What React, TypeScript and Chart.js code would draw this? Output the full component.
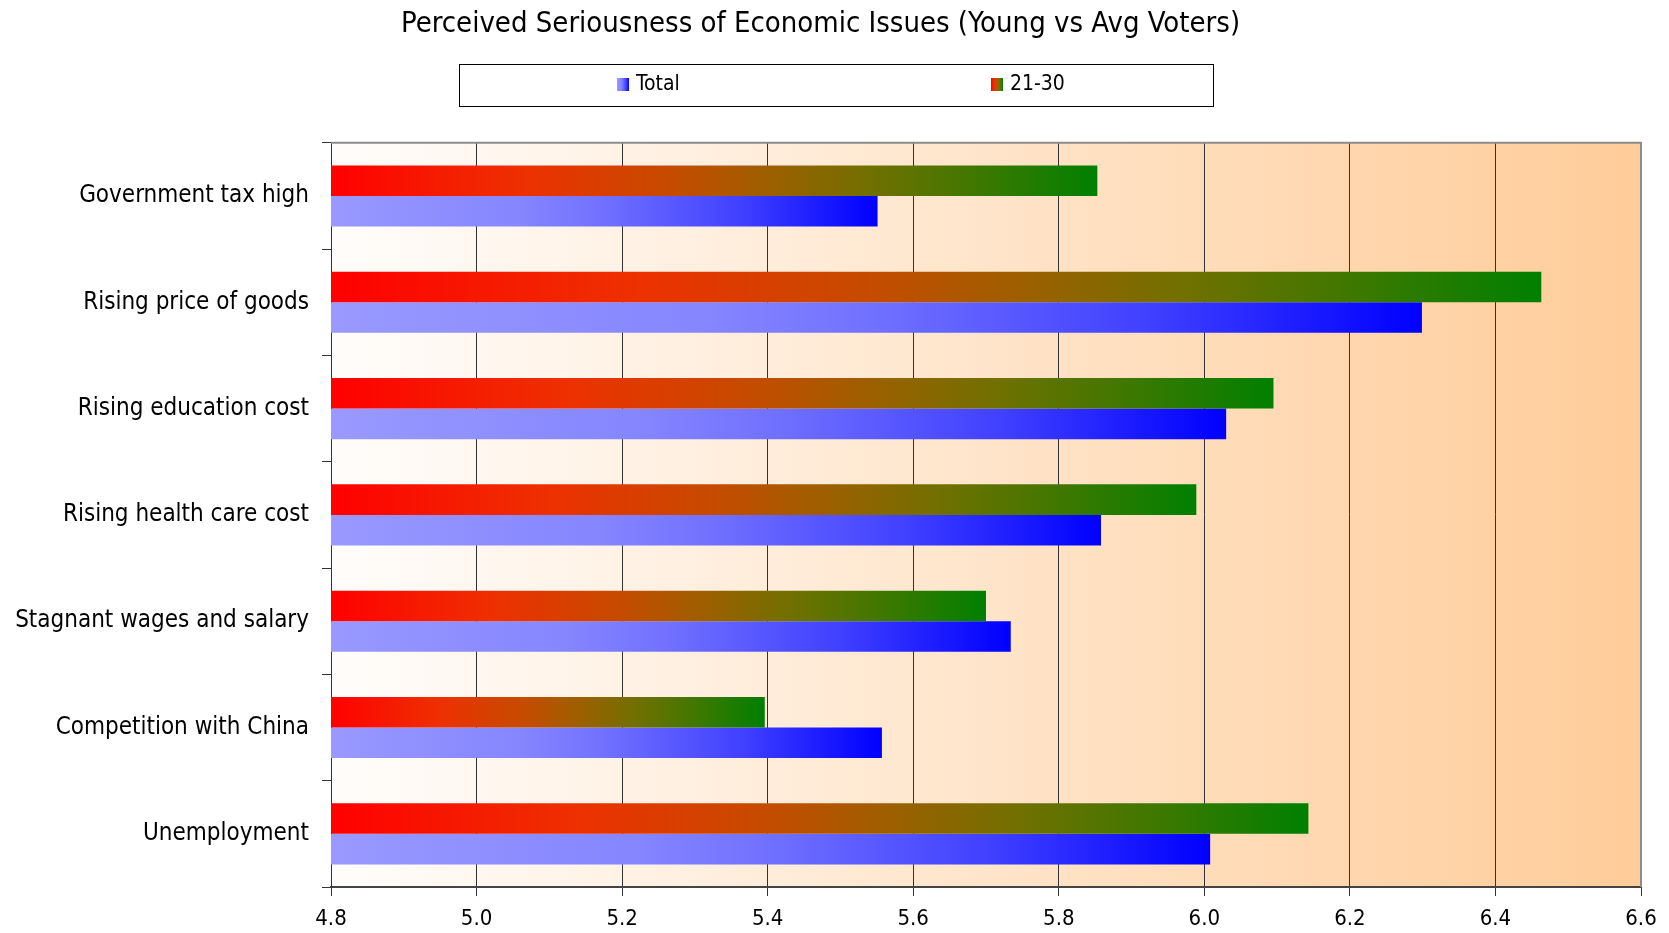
import React, { useEffect, useRef } from "react";
import { Chart, registerables } from "chart.js";

Chart.register(...registerables);

const categories = [
  "Government tax high",
  "Rising price of goods",
  "Rising education cost",
  "Rising health care cost",
  "Stagnant wages and salary",
  "Competition with China",
  "Unemployment",
];
const young = [5.853, 6.463, 6.095, 5.989, 5.7, 5.396, 6.143];
const total = [5.551, 6.299, 6.03, 5.858, 5.734, 5.557, 6.008];
const seriesNames = ["Total", "21-30"];
const xTicks = [4.8, 5.0, 5.2, 5.4, 5.6, 5.8, 6.0, 6.2, 6.4, 6.6];

const FONT = "'DejaVu Sans Condensed', 'Liberation Sans Narrow', sans-serif";
const XMIN = 4.8;
const XMAX = 6.6;

const redStops: [number, string][] = [
  [0, "#ff0000"],
  [0.25, "#ee3000"],
  [0.45, "#c44c00"],
  [0.55, "#a45c00"],
  [0.7, "#727000"],
  [0.85, "#3c7800"],
  [1, "#008000"],
];
const blueStops: [number, string][] = [
  [0, "#9999ff"],
  [0.35, "#8585ff"],
  [0.5, "#7070ff"],
  [0.75, "#4040ff"],
  [1, "#0000ff"],
];

function makeGrad(c: CanvasRenderingContext2D, x0: number, x1: number, stops: [number, string][]) {
  const g = c.createLinearGradient(x0, 0, Math.max(x1, x0 + 1), 0);
  stops.forEach(([o, col]) => g.addColorStop(o, col));
  return g;
}

function barGradient(stops: [number, string][]) {
  return (ctx: any) => {
    const chart = ctx.chart;
    const sx = chart.scales && chart.scales.x;
    if (!chart.chartArea || !sx || typeof ctx.raw !== "number") return stops[stops.length - 1][1];
    const x0 = sx.getPixelForValue(XMIN);
    const x1 = sx.getPixelForValue(ctx.raw);
    return makeGrad(chart.ctx, x0, x1, stops);
  };
}

const bgPlugin = {
  id: "plotBg",
  beforeDraw(chart: any) {
    const { ctx, chartArea } = chart;
    if (!chartArea) return;
    const g = ctx.createLinearGradient(chartArea.left, 0, chartArea.right, 0);
    g.addColorStop(0, "#fffdfb");
    g.addColorStop(1, "#ffcc99");
    ctx.save();
    ctx.fillStyle = g;
    ctx.fillRect(chartArea.left, chartArea.top, chartArea.right - chartArea.left, chartArea.bottom - chartArea.top);
    ctx.restore();
  },
  afterDraw(chart: any) {
    const { ctx, chartArea } = chart;
    ctx.save();
    ctx.strokeStyle = "#8c8c8c";
    ctx.lineWidth = 2;
    ctx.beginPath();
    ctx.moveTo(chartArea.left, chartArea.top);
    ctx.lineTo(chartArea.right, chartArea.top);
    ctx.lineTo(chartArea.right, chartArea.bottom);
    ctx.stroke();

    ctx.lineWidth = 1;
    ctx.strokeStyle = "#000";
    ctx.strokeRect(459.5, 64.5, 754, 42);
    const items = [
      { name: seriesNames[0], x: 617, stops: blueStops },
      { name: seriesNames[1], x: 991, stops: redStops },
    ];
    ctx.font = `21px ${FONT}`;
    ctx.textBaseline = "middle";
    ctx.textAlign = "left";
    items.forEach((it) => {
      ctx.fillStyle = makeGrad(ctx, it.x, it.x + 12, it.stops);
      ctx.fillRect(it.x, 78, 12, 13);
      ctx.fillStyle = "#000";
      ctx.fillText(it.name, it.x + 19, 85);
    });
    ctx.restore();
  },
};

export default function App() {
  const ref = useRef<HTMLCanvasElement | null>(null);

  useEffect(() => {
    document.body.style.margin = "0";
    const canvas = ref.current;
    if (!canvas) return;
    const chart = new Chart(canvas, {
      type: "bar",
      data: {
        labels: categories,
        datasets: [
          {
            label: seriesNames[1],
            data: young,
            backgroundColor: barGradient(redStops),
            borderWidth: 0,
            categoryPercentage: 0.575,
            barPercentage: 1.0,
          },
          {
            label: seriesNames[0],
            data: total,
            backgroundColor: barGradient(blueStops),
            borderWidth: 0,
            categoryPercentage: 0.575,
            barPercentage: 1.0,
          },
        ],
      },
      options: {
        indexAxis: "y",
        responsive: false,
        animation: false,
        layout: { padding: { left: 0, right: 28, top: 0, bottom: 0 } },
        plugins: {
          legend: { display: false },
          tooltip: { enabled: false },
          title: {
            display: true,
            text: "Perceived Seriousness of Economic Issues (Young vs Avg Voters)",
            color: "#000",
            font: { family: FONT, size: 29, weight: "normal" },
            padding: { top: 7, bottom: 101 },
          },
        },
        scales: {
          x: {
            type: "linear",
            min: XMIN,
            max: XMAX,
            afterBuildTicks: (scale: any) => {
              scale.ticks = xTicks.map((v) => ({ value: v }));
            },
            afterFit: (scale: any) => {
              scale.height = 46;
            },
            ticks: {
              color: "#000",
              font: { family: FONT, size: 22 },
              padding: 10,
              callback: (v: any) => Number(v).toFixed(1),
            },
            grid: {
              color: "#333",
              lineWidth: 1,
              tickLength: 9,
              drawOnChartArea: true,
            },
            border: { display: true, color: "#444", width: 2 },
          },
          y: {
            type: "category",
            afterFit: (scale: any) => {
              scale.width = 331;
            },
            ticks: {
              color: "#000",
              font: { family: FONT, size: 24 },
              padding: 13,
            },
            grid: {
              offset: true,
              drawOnChartArea: false,
              drawTicks: true,
              tickLength: 9,
              color: "#333",
            },
            border: { display: true, color: "#333", width: 1 },
          },
        },
      },
      plugins: [bgPlugin],
    } as any);
    return () => chart.destroy();
  }, []);

  return (
    <div style={{ width: 1669, height: 933, background: "#fff" }}>
      <canvas ref={ref} width={1669} height={933} style={{ display: "block" }} />
    </div>
  );
}
